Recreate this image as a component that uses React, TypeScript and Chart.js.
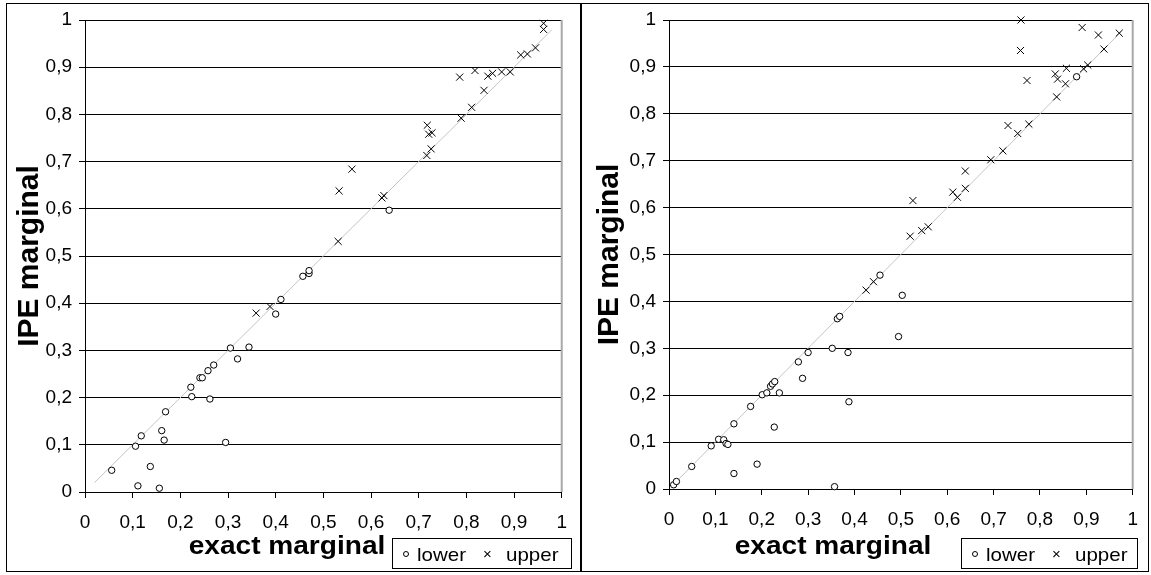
import React, { useEffect, useRef } from "react";
import { Chart, registerables } from "chart.js";

Chart.register(...registerables);

// ---------- data ----------
const axisTicks = [0, 0.1, 0.2, 0.3, 0.4, 0.5, 0.6, 0.7, 0.8, 0.9, 1];
const xTitle = "exact marginal";
const yTitle = "IPE marginal";
const seriesNames = ["lower", "upper", "ref"];

// left panel
const leftLowerX = [0.056, 0.111, 0.156, 0.137, 0.106, 0.118, 0.161, 0.166, 0.169, 0.295, 0.222, 0.224, 0.262, 0.241, 0.246, 0.258, 0.27, 0.305, 0.32, 0.344, 0.4, 0.411, 0.457, 0.47, 0.47, 0.638];
const leftLowerY = [0.046, 0.013, 0.008, 0.054, 0.097, 0.119, 0.13, 0.11, 0.17, 0.105, 0.222, 0.202, 0.197, 0.242, 0.242, 0.257, 0.269, 0.305, 0.282, 0.307, 0.377, 0.408, 0.457, 0.463, 0.469, 0.597];
const leftUpperX = [0.359, 0.388, 0.531, 0.533, 0.56, 0.623, 0.627, 0.717, 0.726, 0.718, 0.721, 0.728, 0.789, 0.811, 0.837, 0.786, 0.818, 0.845, 0.855, 0.874, 0.892, 0.914, 0.928, 0.945, 0.962, 0.962];
const leftUpperY = [0.379, 0.393, 0.531, 0.638, 0.684, 0.623, 0.628, 0.713, 0.727, 0.777, 0.758, 0.761, 0.792, 0.815, 0.851, 0.879, 0.893, 0.881, 0.887, 0.89, 0.89, 0.926, 0.928, 0.941, 0.98, 0.993];
const leftRefX = [0.02, 0.98];

// right panel
const rightLowerX = [0.01, 0.016, 0.049, 0.091, 0.107, 0.118, 0.123, 0.127, 0.14, 0.14, 0.19, 0.176, 0.201, 0.211, 0.219, 0.223, 0.228, 0.238, 0.227, 0.279, 0.288, 0.3, 0.352, 0.357, 0.386, 0.388, 0.363, 0.368, 0.455, 0.495, 0.503, 0.879];
const rightLowerY = [0.009, 0.016, 0.048, 0.092, 0.106, 0.105, 0.097, 0.095, 0.033, 0.139, 0.053, 0.176, 0.201, 0.205, 0.219, 0.224, 0.229, 0.205, 0.132, 0.271, 0.236, 0.291, 0.3, 0.005, 0.291, 0.186, 0.363, 0.368, 0.456, 0.325, 0.413, 0.879];
const rightUpperX = [0.425, 0.441, 0.52, 0.545, 0.559, 0.526, 0.612, 0.622, 0.639, 0.639, 0.694, 0.72, 0.731, 0.752, 0.776, 0.772, 0.758, 0.759, 0.836, 0.838, 0.833, 0.855, 0.857, 0.894, 0.903, 0.891, 0.926, 0.938, 0.971];
const rightUpperY = [0.424, 0.442, 0.539, 0.551, 0.559, 0.615, 0.633, 0.622, 0.641, 0.678, 0.702, 0.721, 0.775, 0.758, 0.778, 0.871, 0.935, 1.0, 0.836, 0.874, 0.885, 0.864, 0.897, 0.896, 0.904, 0.984, 0.968, 0.938, 0.972];
const rightRefX = [0.005, 0.975];

const FONT = "'Liberation Sans', Arial, sans-serif";

const pts = (xs: number[], ys: number[]) => xs.map((x, i) => ({ x, y: ys[i] }));
const fmt = (v: number) => String(Math.round(v * 10) / 10).replace(".", ",");

const edgePlugin = {
  id: "edgePlugin",
  beforeDatasetsDraw(chart: any) {
    const { ctx, chartArea } = chart;
    ctx.save();
    ctx.strokeStyle = "#a8a8a8";
    ctx.lineWidth = 2;
    ctx.beginPath();
    ctx.moveTo(chartArea.right, chartArea.top);
    ctx.lineTo(chartArea.right, chartArea.bottom);
    ctx.stroke();
    ctx.restore();
  },
};

type PanelProps = {
  lowerX: number[];
  lowerY: number[];
  upperX: number[];
  upperY: number[];
  refX: number[];
  width: number;
  height: number;
  yWidth: number;
  xHeight: number;
  padRight: number;
  padTop: number;
};

function PanelChart(p: PanelProps) {
  const ref = useRef<HTMLCanvasElement | null>(null);
  useEffect(() => {
    if (!ref.current) return;
    const chart = new Chart(ref.current, {
      type: "scatter",
      data: {
        datasets: [
          {
            label: seriesNames[0],
            data: pts(p.lowerX, p.lowerY),
            pointStyle: "circle",
            pointRadius: 3.2,
            pointBorderWidth: 1,
            pointBorderColor: "#000",
            pointBackgroundColor: "#fff",
            clip: false,
            order: 1,
          } as any,
          {
            label: seriesNames[1],
            data: pts(p.upperX, p.upperY),
            pointStyle: "crossRot",
            pointRadius: 5,
            pointBorderWidth: 1,
            pointBorderColor: "#000",
            clip: false,
            order: 0,
          } as any,
          {
            type: "line",
            label: seriesNames[2],
            data: pts(p.refX, p.refX),
            showLine: true,
            borderColor: "#c4c4c4",
            borderWidth: 1,
            pointRadius: 0,
            order: 2,
          } as any,
        ],
      },
      options: {
        animation: false,
        responsive: false,
        devicePixelRatio: 1,
        layout: { padding: { left: 0, right: p.padRight, top: p.padTop, bottom: 0 } },
        plugins: { legend: { display: false }, tooltip: { enabled: false } },
        scales: {
          x: {
            type: "linear",
            min: 0,
            max: 1,
            afterFit: (s: any) => {
              s.height = p.xHeight;
            },
            afterBuildTicks: (s: any) => {
              s.ticks = axisTicks.map((v) => ({ value: v }));
            },
            ticks: {
              callback: (v: any) => fmt(Number(v)),
              color: "#000",
              font: { family: FONT, size: 19 },
              padding: 13,
              maxRotation: 0,
              autoSkip: false,
            },
            grid: { drawOnChartArea: false, drawTicks: true, tickLength: 6, color: "#000" },
            border: { display: true, color: "#000", width: 1 },
          },
          y: {
            type: "linear",
            min: 0,
            max: 1,
            afterFit: (s: any) => {
              s.width = p.yWidth;
            },
            afterBuildTicks: (s: any) => {
              s.ticks = axisTicks.map((v) => ({ value: v }));
            },
            ticks: {
              callback: (v: any) => fmt(Number(v)),
              color: "#000",
              font: { family: FONT, size: 19 },
              padding: 7,
            },
            grid: { drawOnChartArea: true, drawTicks: true, tickLength: 6, color: "#000", lineWidth: 1 },
            border: { display: true, color: "#000", width: 1 },
            title: {
              display: true,
              text: yTitle,
              color: "#000",
              font: { family: FONT, size: 30, weight: "bold" },
              padding: { top: 12, bottom: 0 },
            },
          },
        },
      },
      plugins: [edgePlugin],
    } as any);
    return () => chart.destroy();
  }, []);
  return <canvas ref={ref} width={p.width} height={p.height} style={{ display: "block", width: p.width, height: p.height }} />;
}

function Legend({ left, top, width }: { left: number; top: number; width: number }) {
  const txt: React.CSSProperties = {
    position: "absolute",
    fontFamily: FONT,
    fontSize: 19,
    lineHeight: "19px",
    color: "#000",
    whiteSpace: "nowrap",
    transform: "scaleX(1.08)",
    transformOrigin: "left center",
  };
  return (
    <div
      style={{
        position: "absolute",
        left,
        top,
        width,
        height: 31,
        border: "1px solid #000",
        background: "#fff",
        overflow: "hidden",
        boxSizing: "border-box",
      }}
    >
      <div
        style={{
          position: "absolute",
          left: 10,
          top: 12,
          width: 4,
          height: 4,
          border: "1px solid #000",
          borderRadius: "50%",
        }}
      />
      <div style={{ ...txt, left: 24, top: 6 }}>{seriesNames[0]}</div>
      <div style={{ ...txt, left: 90, top: 5, fontSize: 15, transform: "none" }}>×</div>
      <div style={{ ...txt, left: 113, top: 6 }}>{seriesNames[1]}</div>
      <div style={{ ...txt, left: 60, top: 27 }}>{seriesNames[2]}</div>
    </div>
  );
}

function XTitle({ cx }: { cx: number }) {
  return (
    <div
      style={{
        position: "absolute",
        left: cx,
        top: 532,
        fontFamily: FONT,
        fontWeight: "bold",
        fontSize: 26,
        lineHeight: "26px",
        whiteSpace: "nowrap",
        color: "#000",
        transform: "translateX(-50%) scaleX(1.08)",
      }}
    >
      {xTitle}
    </div>
  );
}

export default function App() {
  return (
    <div style={{ position: "fixed", left: 0, top: 0, width: 1151, height: 575, background: "#fff", overflow: "hidden" }}>
      <div style={{ position: "absolute", left: 0, top: 0 }}>
        <PanelChart
          lowerX={leftLowerX}
          lowerY={leftLowerY}
          upperX={leftUpperX}
          upperY={leftUpperY}
          refX={leftRefX}
          width={580}
          height={575}
          yWidth={85}
          xHeight={83}
          padRight={10}
          padTop={20}
        />
      </div>
      <div style={{ position: "absolute", left: 580, top: 0 }}>
        <PanelChart
          lowerX={rightLowerX}
          lowerY={rightLowerY}
          upperX={rightUpperX}
          upperY={rightUpperY}
          refX={rightRefX}
          width={571}
          height={575}
          yWidth={89}
          xHeight={86}
          padRight={12}
          padTop={20}
        />
      </div>
      <XTitle cx={287} />
      <XTitle cx={833} />
      <Legend left={392} top={538} width={180} />
      <Legend left={961} top={538} width={177} />
      {/* panel frames */}
      <div style={{ position: "absolute", left: 6, top: 3, width: 575, height: 569, border: "1px solid #000", boxSizing: "border-box" }} />
      <div style={{ position: "absolute", left: 581, top: 3, width: 568, height: 569, border: "1px solid #000", boxSizing: "border-box" }} />
    </div>
  );
}
